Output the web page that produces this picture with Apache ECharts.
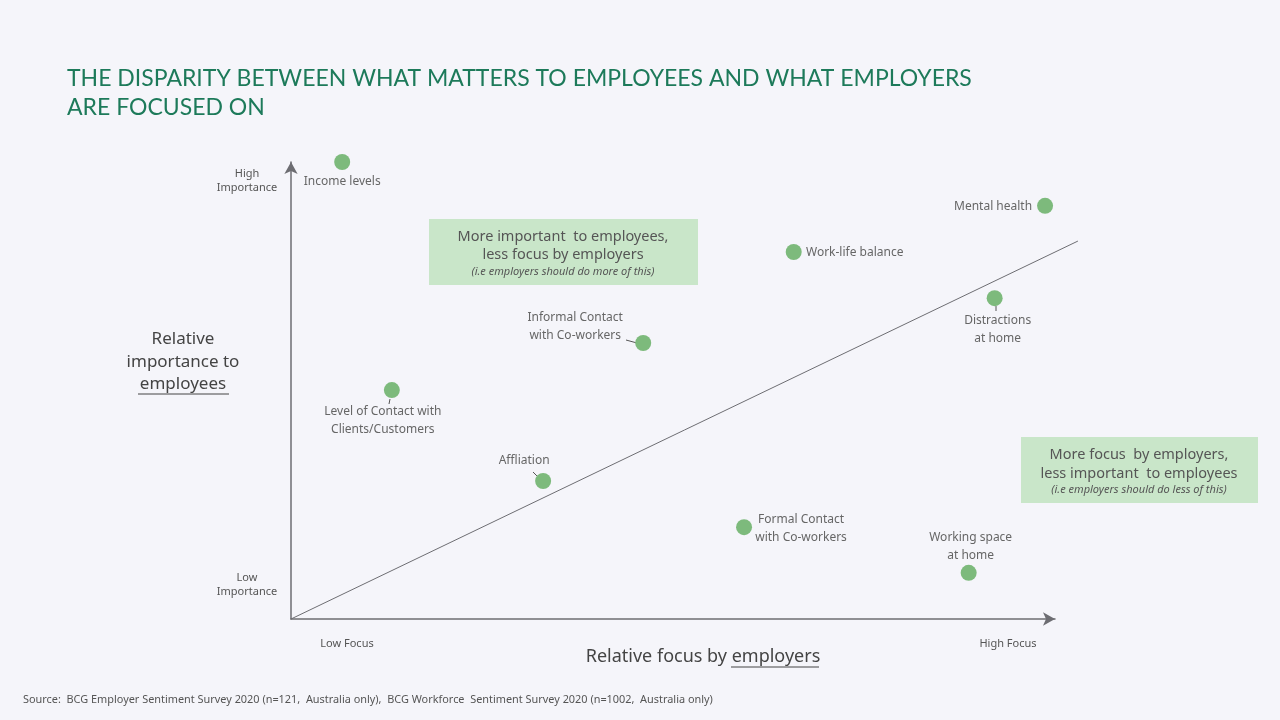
<!DOCTYPE html>
<html><head><meta charset="utf-8">
<script src="https://cdn.jsdelivr.net/npm/echarts@6/dist/echarts.min.js"></script>
<style>html,body{margin:0;padding:0;background:#f5f5fa;}#c{width:1280px;height:720px;}</style>
</head><body><div id="c"></div>
<script>
// ---- data ----
var pointNames = ['Income levels','Mental health','Work-life balance','Distractions\nat home','Informal Contact\nwith Co-workers','Level of Contact with\nClients/Customers','Affliation','Formal Contact\nwith Co-workers','Working space\nat home'];
var employerFocus = [6.7, 98.7, 65.8, 92.1, 46.1, 13.2, 33.0, 59.3, 88.7];
var employeeImportance = [100, 90.4, 80.3, 70.2, 60.4, 50.1, 30.2, 20.1, 10.1];
var diagonalX = [0, 103];
var diagonalY = [0, 82.7];
var titleLines = ['THE DISPARITY BETWEEN WHAT MATTERS TO EMPLOYEES AND WHAT EMPLOYERS', 'ARE FOCUSED ON'];
var yEndLabels = ['Low\nImportance', 'High\nImportance'];
var xEndLabels = ['Low Focus', 'High Focus'];
var box1Text = ['More important  to employees,', 'less focus by employers', '(i.e employers should do more of this)'];
var box2Text = ['More focus  by employers,', 'less important  to employees', '(i.e employers should do less of this)'];
var sourceText = 'Source:  BCG Employer Sentiment Survey 2020 (n=121,  Australia only),  BCG Workforce  Sentiment Survey 2020 (n=1002,  Australia only)';

// ---- label styling (offsets from point centre) ----
var labelOffsets = [[0,20],[-52,1],[61,1],[3,31],[-68,-16],[-9,31],[-19,-20],[57,1],[2,-26]];

var FONT = 'Noto Sans';
var pts = pointNames.map(function(n,i){
  return {name:n, value:[employerFocus[i], employeeImportance[i]],
    label:{offset:labelOffsets[i]}};
});

var chart = echarts.init(document.getElementById('c'));
var G = {l:291, t:162, w:764, h:457};
var xMaxLine = diagonalX[1];
var hiddenAxis = {axisLabel:{show:false}, axisTick:{show:false}, splitLine:{show:false}, axisLine:{show:false}};
chart.setOption({
  backgroundColor:'#f5f5fa',
  animation:false,
  grid:[
    {left:G.l, top:G.t, width:G.w, height:G.h, containLabel:false},
    {left:G.l, top:G.t, width:G.w*xMaxLine/100, height:G.h, containLabel:false}
  ],
  xAxis:[
    {type:'value', gridIndex:0, min:0, max:100, axisLabel:{show:false}, axisTick:{show:false}, splitLine:{show:false},
      axisLine:{show:true, symbol:['none','arrow'], symbolSize:[10,12], lineStyle:{color:'#6d6d72', width:1.5}}},
    Object.assign({type:'value', gridIndex:1, min:0, max:xMaxLine}, hiddenAxis)
  ],
  yAxis:[
    {type:'value', gridIndex:0, min:0, max:100, axisLabel:{show:false}, axisTick:{show:false}, splitLine:{show:false},
      axisLine:{show:true, onZero:false, symbol:['none','arrow'], symbolSize:[10,12], lineStyle:{color:'#6d6d72', width:1.5}}},
    Object.assign({type:'value', gridIndex:1, min:0, max:100}, hiddenAxis)
  ],
  series:[
    {type:'line', xAxisIndex:1, yAxisIndex:1, data:diagonalX.map(function(x,i){return [x, diagonalY[i]];}), symbol:'none',
      lineStyle:{color:'#6d6d72', width:1}, silent:true, z:1},
    {type:'scatter', data:pts, symbolSize:16, clip:false, itemStyle:{color:'#7dba7c', opacity:1}, z:3,
      label:{show:true, position:'inside', align:'center', verticalAlign:'middle', color:'#666', fontFamily:FONT, fontSize:12, lineHeight:18,
        formatter:function(p){return p.name;}}}
  ],
  graphic:[
    {type:'text', left:67, top:64, style:{text:titleLines.join('\n'), fill:'#1d7a5a', font:'23px Lato', lineHeight:29}},
    {type:'text', x:247, y:181, style:{text:yEndLabels[1], fill:'#555', font:'11px '+FONT, textAlign:'center', textVerticalAlign:'middle', lineHeight:14}},
    {type:'text', x:247, y:585, style:{text:yEndLabels[0], fill:'#555', font:'11px '+FONT, textAlign:'center', textVerticalAlign:'middle', lineHeight:14}},
    {type:'text', x:347, y:644, style:{text:xEndLabels[0], fill:'#555', font:'11px '+FONT, textAlign:'center', textVerticalAlign:'middle'}},
    {type:'text', x:1008, y:644, style:{text:xEndLabels[1], fill:'#555', font:'11px '+FONT, textAlign:'center', textVerticalAlign:'middle'}},
    {type:'text', x:183, y:362, style:{text:'Relative\nimportance to\nemployees', fill:'#444', font:'17px '+FONT, textAlign:'center', textVerticalAlign:'middle', lineHeight:22.5}},
    {type:'line', shape:{x1:138, y1:394, x2:229, y2:394}, style:{stroke:'#444', lineWidth:1}},
    {type:'text', x:703, y:657, style:{text:'Relative focus by employers', fill:'#444', font:'18px '+FONT, textAlign:'center', textVerticalAlign:'middle'}},
    {type:'line', shape:{x1:731, y1:667, x2:819, y2:667}, style:{stroke:'#444', lineWidth:1}},
    {type:'rect', shape:{x:429, y:219, width:269, height:66}, style:{fill:'#c9e6c9'}},
    {type:'text', x:563, y:246, style:{text:box1Text[0]+'\n'+box1Text[1], fill:'#555', font:'14.5px '+FONT, textAlign:'center', textVerticalAlign:'middle', lineHeight:18}},
    {type:'text', x:563, y:272, style:{text:box1Text[2], fill:'#555', font:'italic 11px '+FONT, textAlign:'center', textVerticalAlign:'middle'}},
    {type:'rect', shape:{x:1021, y:437, width:237, height:66}, style:{fill:'#c9e6c9'}},
    {type:'text', x:1139, y:464, style:{text:box2Text[0]+'\n'+box2Text[1], fill:'#555', font:'14.5px '+FONT, textAlign:'center', textVerticalAlign:'middle', lineHeight:19}},
    {type:'text', x:1139, y:490, style:{text:box2Text[2], fill:'#555', font:'italic 11px '+FONT, textAlign:'center', textVerticalAlign:'middle'}},
    {type:'text', x:23, y:700, style:{text:sourceText, fill:'#555', font:'10.9px '+FONT, textVerticalAlign:'middle'}},
    {type:'line', shape:{x1:626, y1:340, x2:637, y2:343}, style:{stroke:'#555', lineWidth:1}},
    {type:'line', shape:{x1:390, y1:399, x2:389, y2:404}, style:{stroke:'#555', lineWidth:1}},
    {type:'line', shape:{x1:533, y1:472, x2:537, y2:476}, style:{stroke:'#555', lineWidth:1}},
    {type:'line', shape:{x1:996, y1:306, x2:996, y2:311}, style:{stroke:'#555', lineWidth:1}}
  ]
});
</script></body></html>
